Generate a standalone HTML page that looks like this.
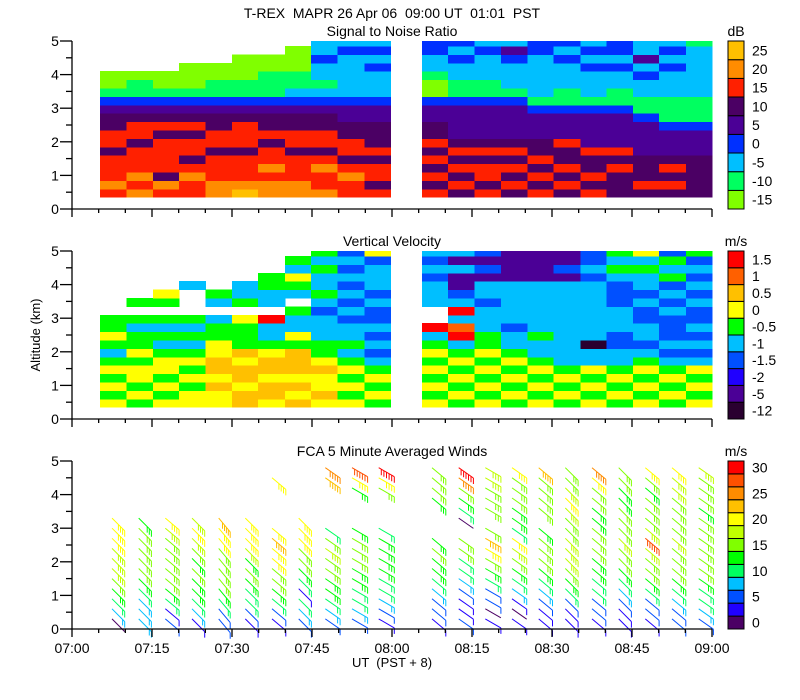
<!DOCTYPE html>
<html><head><meta charset="utf-8"><style>
body{margin:0;background:#fff;}
svg{display:block;font-family:"Liberation Sans",sans-serif;}
text{fill:#000;}
</style></head><body>
<svg id="chart" width="800" height="700" viewBox="0 0 800 700" xmlns="http://www.w3.org/2000/svg">
<text x="392" y="18" font-size="14" text-anchor="middle" xml:space="preserve">T-REX  MAPR 26 Apr 06  09:00 UT  01:01  PST</text>
<text x="392" y="36" font-size="14" text-anchor="middle">Signal to Noise Ratio</text>
<text x="392" y="246" font-size="14" text-anchor="middle">Vertical Velocity</text>
<text x="392" y="456" font-size="14" text-anchor="middle">FCA 5 Minute Averaged Winds</text>
<text transform="translate(40,335) rotate(-90)" font-size="13" text-anchor="middle">Altitude (km)</text>
<text x="392" y="667" font-size="13" text-anchor="middle" xml:space="preserve">UT  (PST + 8)</text>
<g id="layers"></g>
</svg>
<script>
// ---- data ----
const xTickLabels = ["07:00","07:15","07:30","07:45","08:00","08:15","08:30","08:45","09:00"];
const yTickLabels = ["0","1","2","3","4","5"];
const colStart = [5.25,10.2,15.2,20.1,25.0,30.0,34.9,39.9,44.8,49.8,54.8, 65.6,70.5,75.5,80.4,85.4,90.3,95.3,100.2,105.2,110.1,115.1];
const colEnd   = [10.2,15.2,20.1,25.0,30.0,34.9,39.9,44.8,49.8,54.8,59.75, 70.5,75.5,80.4,85.4,90.3,95.3,100.2,105.2,110.1,115.1,120];
const rowBase = 0.35, rowStep = 0.25;
const snrColors = ["#80ff00","#00ff60","#00bfff","#0030ff","#4b0096","#4b0064","#ff2000","#ff8c00","#ffc000"];
const snrLabels = ["-15","-10","-5","0","5","10","15","20","25"];
const snrGrid = [
"676665665543100","767666566543110","675666656543100","6676566565431000","7766656655431100",
"87666566654311000","77676656554311100","776665665543211000","7667656655432122322","6676566554432222232","6566565554432223232",
"6565656554430012233","5656565444431122323","6566565444431122232","5656565444431222342","6565655444312222233",
"5656556444311222323","6565564444312223232","5556564444311223233","5655544443112232422","5656544431112223232","5555544431112222221"];
const vvColors = ["#2a0030","#4b0096","#2000ff","#0050ff","#00bfff","#00ff00","#ffff00","#ffc000","#ff6000","#ff0000"];
const vvLabels = ["-12","-5","-2","-1.5","-1","-0.5","0","0.5","1","1.5"];
const vvGrid = [
"65656545655","56566565545.5","65656654545.56","66565654545...4","66767766554.45",
"77677675556.544","67767765449.4455","767677756445.45645","6766765544434544545","6565654544343434343","5656543434334344436",
"6565656549..4443434","5656565498494311414","6565656554443441313","5656565443444441111","6565654454444441111",
"5656544444444441311","6565644044444443433","5656544334443334545","6565654344334344546","5656543433343435453","6565643434334343435"];
const windColors = ["#4b0064","#2000ff","#0050ff","#00bfff","#00ff60","#00ff00","#80ff00","#c0ff00","#ffff00","#ffc000","#ff8c00","#ff5000","#ff0000"];
const windLabels = ["0","5","10","15","20","25","30"];
const windTimes = [7.5,12.5,17.5,22.5,27.5,32.5,37.5,42.5,47.5,52.5,57.5,67.5,72.5,77.5,82.5,87.5,92.5,97.5,102.5,107.5,112.5,117.5];
const windBase = 0.3, windStep = 0.3;
const windSpeeds = [
[2,8,12,14,17,18,18,19,20,20,21],
[8,8,9,12,14,15,16,17,17,16,14],
[5,4,12,13,16,17,16,17,15,18,21],
[4,8,12,13,14,15,13,17,18,20,19],
[5,6,12,13,15,16,17,17,20,22,23],
[3,6,11,12,13,15,13,18,20,22,21],
[4,6,11,13,15,17,22,22,23,20,null,null,null,null,21],
[6,8,10,4,11,14,15,17,20,22,21],
[7,9,11,13,14,15,16,18,17,12,null,null,null,null,23,25],
[6,8,10,12,13,14,15,16,15,14,null,null,null,13,22,28],
[4,6,9,11,12,13,14,14,13,12,null,null,null,15,20,30],
[4,5,6,9,11,13,14,15,13,null,null,null,14,15,15,16],
[5,3,4,6,9,10,12,15,16,null,2,10,14,15,25,30],
[4,2,5,7,10,14,16,22,24,17,null,16,16,17,18,18],
[3,2,4,8,12,14,16,18,20,12,13,14,15,16,17,22],
[3,3,5,9,12,14,15,15,16,14,null,15,16,17,16,24],
[3,4,6,10,13,16,18,19,18,16,17,18,20,18,16,15],
[4,5,7,10,12,14,13,16,17,15,14,13,15,17,20,25],
[3,4,7,9,12,13,15,16,18,17,16,15,14,13,15,17],
[4,5,7,11,13,15,17,18,29,18,17,16,15,14,16,20],
[5,6,9,12,14,15,16,17,18,17,16,15,16,18,18,21],
[6,8,10,12,14,15,16,17,17,16,15,14,15,16,17,18]];
const windAngles = [45,45,40,45,50,45,40,45,35,30,30,40,35,30,35,40,45,40,45,40,40,35];

// ---- layout ----
const NS="http://www.w3.org/2000/svg";
const X0=72, X1=712, TMAX=120;
const panels=[{top:41,bot:209},{top:251,bot:419},{top:461,bot:629}];
const xs=t=>X0+(t/TMAX)*(X1-X0);
const ys=(p,h)=>p.bot-(h/5)*(p.bot-p.top);
const root=document.getElementById('layers');
function mk(tag,attrs,parent){const e=document.createElementNS(NS,tag);for(const k in attrs)e.setAttribute(k,attrs[k]);(parent||root).appendChild(e);return e;}

function heatmap(p,grid,colors,name){
  const g=mk('g',{'shape-rendering':'crispEdges'});
  
  
  grid.forEach((col,ci)=>{
    for(let r=0;r<col.length;r++){
      const ch=col[r]; if(ch==='.')continue;
      const h0=rowBase+r*rowStep, h1=Math.min(5,h0+rowStep);
      const x0=xs(colStart[ci]), x1=xs(colEnd[ci]);
      const y0=ys(p,h1), y1=ys(p,h0);
      const c=mk('rect',{x:x0.toFixed(1),y:y0.toFixed(1),width:(x1-x0+0.5).toFixed(1),height:(y1-y0+0.5).toFixed(1),fill:colors[+ch]},g);
      
      
    }
  });
}
heatmap(panels[0],snrGrid,snrColors,'snr-heatmap');
heatmap(panels[1],vvGrid,vvColors,'vv-heatmap');

function windColor(s){return windColors[Math.min(12,Math.max(0,Math.floor(s/2.5)))];}
const wg=mk('g',{});


windSpeeds.forEach((col,ci)=>{
  col.forEach((s,li)=>{
    if(s===null)return;
    const h=windBase+li*windStep;
    const x=xs(windTimes[ci]), y=ys(panels[2],h);
    const a=windAngles[ci]*Math.PI/180, L=18;
    const ex=x+L*Math.cos(a), ey=y+L*Math.sin(a);
    const col_=windColor(s);
    let d=`M${x.toFixed(1)},${y.toFixed(1)}L${ex.toFixed(1)},${ey.toFixed(1)}`;
    const n=Math.round(s/5);
    for(let k=0;k<n;k++){
      const bx=ex-k*3*Math.cos(a), by=ey-k*3*Math.sin(a);
      d+=`M${bx.toFixed(1)},${by.toFixed(1)}l0,6`;
    }
    const b=mk('path',{d:d,stroke:col_,'stroke-width':1,fill:'none'},wg);
    
    
  });
});

// axes
panels.forEach((p,pi)=>{
  const ag=mk('g',{stroke:'#000','stroke-width':1.3,fill:'none'});
  
  
  mk('path',{d:`M${X0},${p.top}V${p.bot}H${X1}`},ag);
  for(let h=0;h<=5;h+=0.5){
    const y=ys(p,h), major=Number.isInteger(h);
    mk('line',{x1:X0-(major?12:6),y1:y,x2:X0,y2:y},ag);
  }
  for(let t=0;t<=TMAX;t+=5){
    const x=xs(t), major=t%15===0;
    mk('line',{x1:x,y1:p.bot,x2:x,y2:p.bot+(major?8:4)},ag);
  }
  yTickLabels.forEach((lab,i)=>{
    const tx=mk('text',{x:55,y:ys(p,i)+5,'font-size':14,'text-anchor':'middle'});
    tx.textContent=lab;
    
    
  });
});
xTickLabels.forEach((lab,i)=>{
  const tx=mk('text',{x:xs(i*15),y:653,'font-size':14,'text-anchor':'middle'});
  tx.textContent=lab;
  
  
});

// colorbars
function colorbar(p,colors,labels,unit,step,name){
  const g=mk('g',{});
  
  
  const n=colors.length, bh=(p.bot-p.top)/n;
  colors.forEach((c,i)=>{
    const r=mk('rect',{x:728,y:(p.bot-(i+1)*bh).toFixed(1),width:16,height:bh.toFixed(1),fill:c,stroke:'#000','stroke-width':1},g);
    
    
  });
  labels.forEach((lab,i)=>{
    const t=mk('text',{x:752,y:(p.bot-(i*step+0.5)*bh+5).toFixed(1),'font-size':14},g);
    t.textContent=lab;
    
    
  });
  const u=mk('text',{x:736,y:p.top-5,'font-size':14,'text-anchor':'middle'},g);
  u.textContent=unit;
  
  
}
colorbar(panels[0],snrColors,snrLabels,'dB',1,'snr-colorbar');
colorbar(panels[1],vvColors,vvLabels,'m/s',1,'vv-colorbar');
colorbar(panels[2],windColors,windLabels,'m/s',2,'wind-colorbar');
</script>
</body></html>
